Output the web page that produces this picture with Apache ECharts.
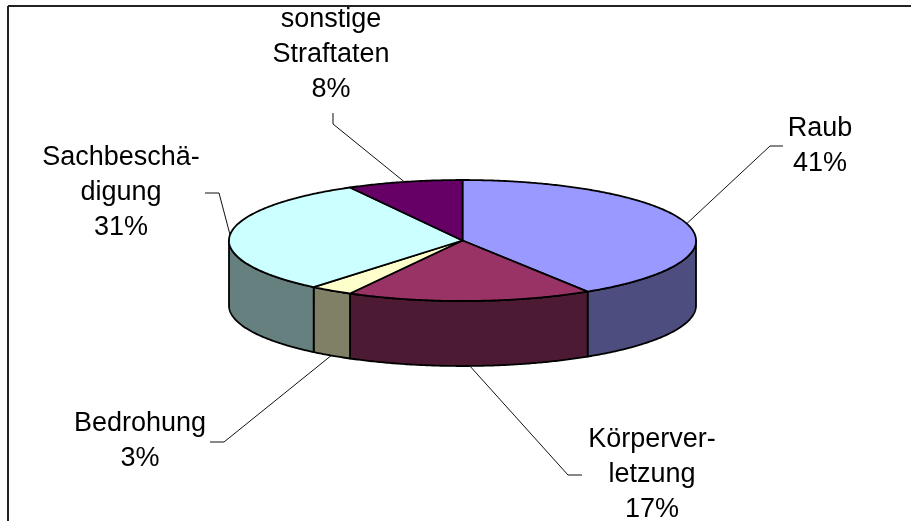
<!DOCTYPE html>
<html><head><meta charset="utf-8">
<script src="https://cdn.jsdelivr.net/npm/echarts/dist/echarts.min.js"></script>
<style>html,body{margin:0;padding:0;background:#fff}#chart{width:911px;height:521px}</style>
</head><body><div id="chart"></div>
<script>
// ---- data ----
const categories = ['Raub', 'Körperver-\nletzung', 'Bedrohung', 'Sachbeschä-\ndigung', 'sonstige\nStraftaten'];
const values = [41, 17, 3, 31, 8];

// ---- styles ----
const topColors = ['#9999FF', '#993366', '#FFFFCC', '#CCFFFF', '#660066'];
const sideColors = ['#4D4D80', '#4D1A33', '#808066', '#668080', '#330033'];

// ---- layout (pixels) ----
const PIE = { left: 229, top: 180, width: 467, ry: 60.5, depth: 65 };
const labelLayout = [
  { text: [820, 146],   elbow: [770, 146], end: [783, 146] },
  { text: [652, 475],   elbow: [568, 475], end: [582, 475] },
  { text: [140, 441],   elbow: [224, 442], end: [210, 442] },
  { text: [121, 192.5], elbow: [219, 193], end: [205, 193] },
  { text: [331, 55],    elbow: [333, 124], end: [333, 113] }
];

const total = values.reduce((a, b) => a + b, 0);
const starts = [];
(function () { let acc = 0; values.forEach(v => { starts.push(acc / total * 360); acc += v; }); })();
const h = PIE.depth / PIE.ry; // wall depth in y-axis units

function renderItem(params, api) {
  const i = params.dataIndex;
  const v = api.value(2);
  const a0 = starts[i], a1 = a0 + v / total * 360;
  const rad = d => d * Math.PI / 180;
  const pt = (deg, dy) => api.coord([Math.sin(rad(deg)), Math.cos(rad(deg)) - (dy || 0)]);
  const arc = (s, e, dy) => {
    const n = Math.max(2, Math.ceil((e - s) / 0.5));
    const out = [];
    for (let k = 0; k <= n; k++) out.push(pt(s + (e - s) * k / n, dy));
    return out;
  };
  const children = [];
  const ws = Math.max(a0, 90), we = Math.min(a1, 270);
  if (we > ws) {
    const topArc = arc(ws, we, 0), botArc = arc(ws, we, h).reverse();
    children.push({ type: 'polygon', z2: 1, shape: { points: topArc.concat(botArc) },
      style: { fill: sideColors[i], stroke: '#000', lineWidth: 1.8, lineJoin: 'round' } });
  }
  const topPts = [api.coord([0, 0])].concat(arc(a0, a1, 0));
  children.push({ type: 'polygon', z2: 2, shape: { points: topPts },
    style: { fill: topColors[i], stroke: '#000', lineWidth: 1.8, lineJoin: 'round' } });
  const mid = (a0 + a1) / 2;
  const front = mid > 90 && mid < 270;
  const anchor = pt(mid, front ? h : 0);
  const L = labelLayout[i];
  children.push({ type: 'polyline', z2: 3, shape: { points: [anchor, L.elbow, L.end] },
    style: { stroke: '#111', lineWidth: 1, fill: null } });
  children.push({ type: 'text', z2: 4, x: L.text[0], y: L.text[1],
    style: { text: categories[i] + '\n' + Math.round(v / total * 100) + '%',
      align: 'center', verticalAlign: 'middle',
      font: '27px "Liberation Sans", Arial, sans-serif', lineHeight: 35, fill: '#000' } });
  return { type: 'group', children: children };
}

const chart = echarts.init(document.getElementById('chart'), null, { renderer: 'canvas' });
chart.setOption({
  animation: false,
  backgroundColor: '#fff',
  grid: { left: PIE.left, top: PIE.top, width: PIE.width, height: 2 * PIE.ry + PIE.depth },
  xAxis: { type: 'value', min: -1, max: 1, show: false },
  yAxis: { type: 'value', min: -1 - h, max: 1, show: false },
  graphic: [
    { type: 'line', shape: { x1: 8, y1: 6, x2: 911, y2: 6 }, style: { stroke: '#222', lineWidth: 2 } },
    { type: 'line', shape: { x1: 8, y1: 6, x2: 8, y2: 521 }, style: { stroke: '#222', lineWidth: 2 } }
  ],
  series: [{
    type: 'custom',
    coordinateSystem: 'cartesian2d',
    clip: false,
    dimensions: ['x', 'y', 'v'],
    encode: { x: 0, y: 1 },
    data: values.map(v => [0, 0, v]),
    renderItem: renderItem
  }]
});
</script>
</body></html>
